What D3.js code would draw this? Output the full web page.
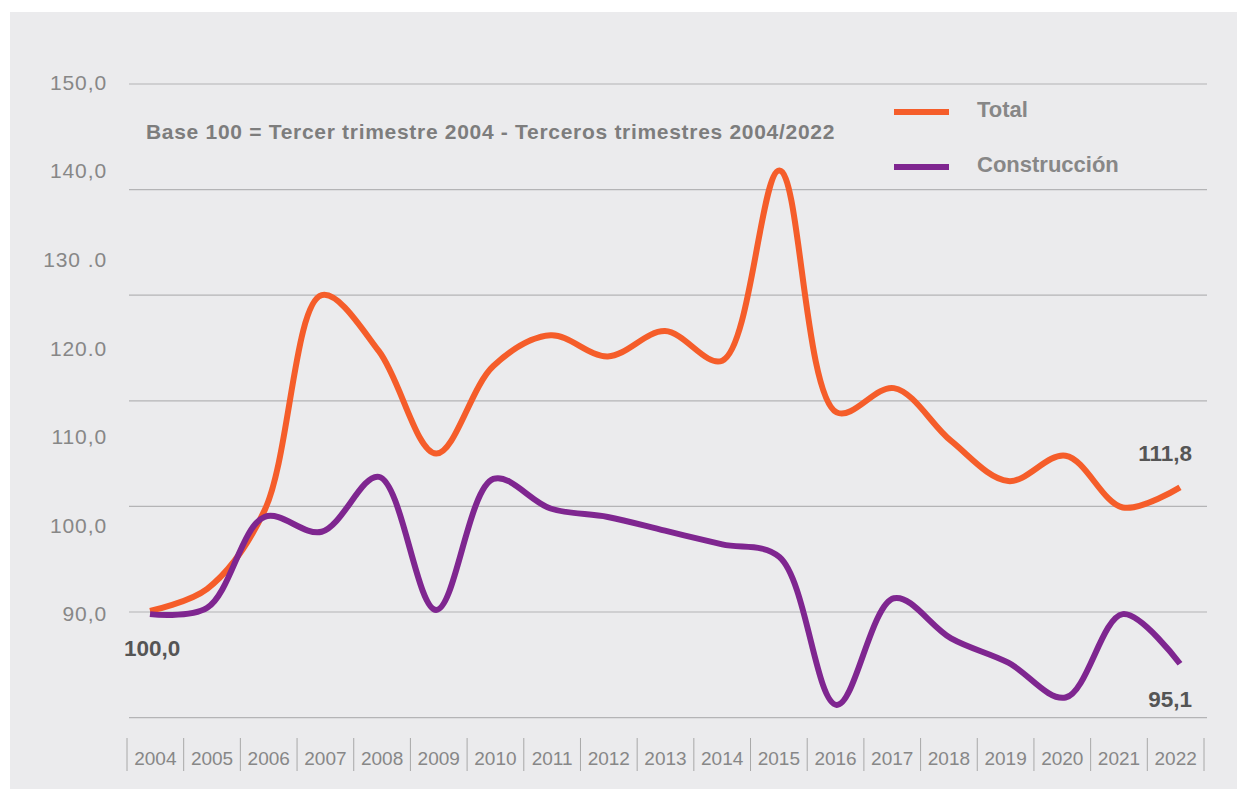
<!DOCTYPE html>
<html><head><meta charset="utf-8">
<script src="https://cdn.jsdelivr.net/npm/d3@7/dist/d3.min.js"></script>
<style>body{margin:0;background:#fff;}svg{display:block;font-family:"Liberation Sans",Arial,sans-serif;}</style>
</head><body><svg id="c" width="1237" height="789"></svg>
<script>
const years = ["2004","2005","2006","2007","2008","2009","2010","2011","2012","2013","2014","2015","2016","2017","2018","2019","2020","2021","2022"];
const total = [100.1,102.2,109.6,130.0,124.7,115.0,123.3,126.2,124.2,126.6,123.8,141.8,118.9,121.2,116.2,112.4,114.8,109.9,111.8];
const construccion = [99.8,100.4,109.0,107.6,112.8,100.2,112.6,109.8,109.0,107.7,106.4,105.2,91.2,101.3,97.5,95.2,91.9,99.8,95.1];
const gridValues = [90,100,110,120,130,140,150];
const tickLabels = ["150,0","140,0","130 .0","120.0","110,0","100,0","90,0"];
const seriesNames = ["Total","Construcción"];
const colors = ["#f55d2a","#7f2690"];

const svg = d3.select("#c");
svg.append("rect").attr("x",10).attr("y",12).attr("width",1227).attr("height",777).attr("fill","#ebebed");

const y = d3.scaleLinear().domain([100,150]).range([612,84]);
const x = d3.scalePoint().domain(years).range([150,1180]);
const xb = d3.scaleBand().domain(years).range([127,1204]);

// gridlines
svg.append("g").selectAll("line").data(gridValues).join("line")
  .attr("x1",129).attr("x2",1207).attr("y1",d=>y(d)).attr("y2",d=>y(d))
  .attr("stroke","#b4b4b6").attr("stroke-width",1.2);

// y tick labels (positioned independently as in reference)
const yl = d3.scalePoint().domain(tickLabels).range([82.5,614]);
svg.append("g").selectAll("text").data(tickLabels).join("text")
  .attr("x",107).attr("y",d=>yl(d)).attr("dy","0.35em").attr("text-anchor","end")
  .attr("fill","#878787").attr("font-size",21).attr("letter-spacing",0.9).text(d=>d);

// x axis bands
const xa = svg.append("g");
xa.selectAll("line").data(years.concat(["end"])).join("line")
  .attr("x1",(d,i)=>127+i*xb.step()).attr("x2",(d,i)=>127+i*xb.step())
  .attr("y1",738).attr("y2",771).attr("stroke","#a8a8a8").attr("stroke-width",1);
xa.selectAll("text").data(years).join("text")
  .attr("x",d=>xb(d)+xb.bandwidth()/2).attr("y",765).attr("text-anchor","middle")
  .attr("fill","#878787").attr("font-size",19).text(d=>d);

const line = d3.line().x((d,i)=>x(years[i])).y(d=>y(d)).curve(d3.curveCatmullRom.alpha(0.5));
[total,construccion].forEach((s,k)=>{
  svg.append("path").attr("d",line(s)).attr("fill","none").attr("stroke",colors[k]).attr("stroke-width",6);
});

// title
svg.append("text").attr("x",146).attr("y",139).attr("fill","#7d7d7d").attr("font-size",21).attr("font-weight","bold").attr("letter-spacing",0.7).text("Base 100 = Tercer trimestre 2004 - Terceros trimestres 2004/2022");

// legend
seriesNames.forEach((n,k)=>{
  const ly = 112 + k*55;
  svg.append("line").attr("x1",894).attr("x2",949).attr("y1",ly).attr("y2",ly).attr("stroke",colors[k]).attr("stroke-width",6);
  svg.append("text").attr("x",977).attr("y",ly+5).attr("fill","#878787").attr("font-size",22).attr("font-weight","bold").text(n);
});

// data labels
const fmt = v=>v.toFixed(1).replace(".",",");
svg.append("text").attr("x",124).attr("y",656).attr("fill","#555").attr("font-size",22.5).attr("font-weight","bold").text(fmt(100));
svg.append("text").attr("x",1192).attr("y",461).attr("text-anchor","end").attr("fill","#555").attr("font-size",22.5).attr("font-weight","bold").text(fmt(total[total.length-1]));
svg.append("text").attr("x",1192).attr("y",707).attr("text-anchor","end").attr("fill","#555").attr("font-size",22.5).attr("font-weight","bold").text(fmt(construccion[construccion.length-1]));
</script></body></html>
